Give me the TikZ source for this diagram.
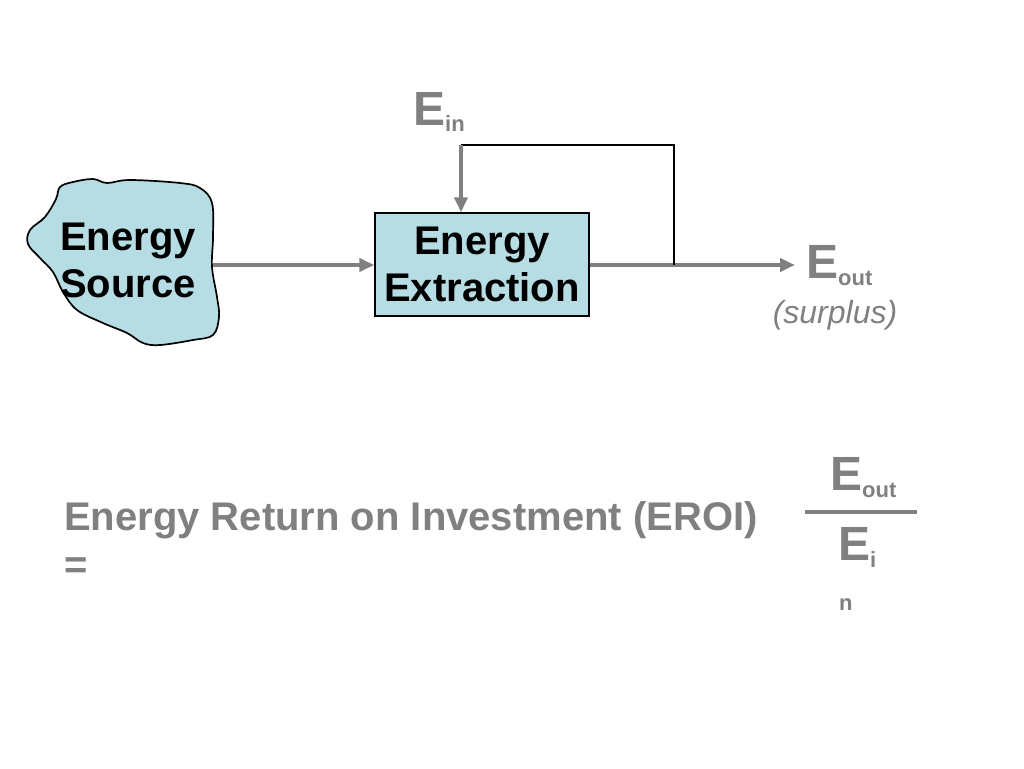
\documentclass[tikz,border=0pt]{standalone}
\usepackage{fontspec}
\setmainfont{Liberation Sans}
\usetikzlibrary{arrows.meta}
\definecolor{tgray}{RGB}{128,128,128}
\definecolor{lblue}{RGB}{183,221,228}
\begin{document}
\begin{tikzpicture}[x=1pt,y=-1pt,
  flow/.style={draw=tgray,line width=3.8pt,-{Triangle[length=15pt,width=13pt]}},
  fb/.style={draw=black,line width=2.2pt},
  big/.style={font=\bfseries\fontsize{40}{47}\selectfont,align=center,inner sep=0pt},
  gtxt/.style={text=tgray,inner sep=0pt,anchor=base west},
]
\useasboundingbox (0,0) rectangle (1024,768);
% cloud
\draw[fill=lblue,line width=1.7pt] plot[smooth cycle,tension=0.6] coordinates{
(60,187)(73,182)(93,179)(107,183)(130,180)(180,183)(200,188)(212,203)(213,237)
(212,267)(217,297)(219,317)(213,335)(193,340)(160,345)(143,343)(127,333)(103,323)
(77,310)(63,292)(53,272)(40,258)(28,244)(30,230)(45,217)(56,199)};
\node[big,minimum width=186pt] (src) at (128,260) {Energy\\Source};
% extraction box
\node[big,draw=black,line width=1.4pt,fill=lblue,minimum width=214pt,minimum height=103pt] (ext) at (482,264.5) {Energy\\Extraction};
% coordinates
\coordinate (tap) at (674,265);
\coordinate (tr) at (674,145);
\coordinate (tl) at (461,145);
\coordinate (outend) at (795,265);
% arrows
\draw[flow] (213,265) coordinate (srcR) -- (ext.west |- srcR);
\draw[flow] (ext.east |- tap) -- (outend);
\draw[fb] (tap) -- (tr) -- (tl);
\draw[flow] (tl) -- (ext.north -| tl);
% labels
\node[gtxt,font=\bfseries\fontsize{48}{48}\selectfont] (ein) at (413,125) {E\raisebox{-6pt}{\fontsize{22}{22}\selectfont in}};
\node[gtxt,font=\bfseries\fontsize{48}{48}\selectfont] (eout) at (806,278) {E\raisebox{-7pt}{\fontsize{22}{22}\selectfont out}};
\node[text=tgray,inner sep=0pt,anchor=base,font=\itshape\fontsize{32}{32}\selectfont] (surplus) at (835,323) {(surplus)};
% EROI
\node[gtxt,font=\bfseries\fontsize{40}{48}\selectfont] (eroi) at (64,530) {Energy Return on Investment (EROI)};
\node[gtxt,font=\bfseries\fontsize{40}{48}\selectfont] (eq) at (64,578) {=};
\node[gtxt,font=\bfseries\fontsize{48}{48}\selectfont] (fnum) at (830,490) {E\raisebox{-7pt}{\fontsize{22}{22}\selectfont out}};
\coordinate (fl) at (805,512);
\coordinate (fr) at (917,512);
\draw[draw=tgray,line width=4pt] (fl) -- (fr);
\node[gtxt,font=\bfseries\fontsize{48}{48}\selectfont] (fden) at (838,560) {E\raisebox{-7pt}{\fontsize{22}{22}\selectfont i}};
\node[gtxt,font=\bfseries\fontsize{22}{22}\selectfont] (fn) at (839,610) {n};
\end{tikzpicture}
\end{document}
